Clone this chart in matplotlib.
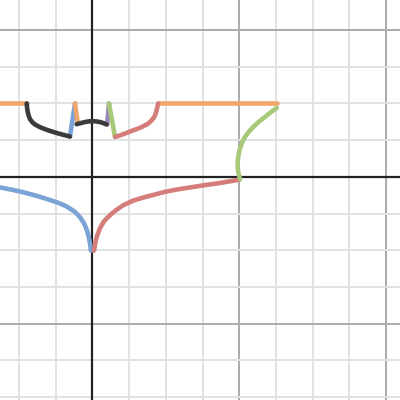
import matplotlib
matplotlib.use("Agg")
import matplotlib.pyplot as plt
import numpy as np

# View window (data units)
x_min, x_max = -1.26, 4.19
y_min, y_max = -3.04, 2.41

# Curves (x, y lists)
blue_low_x = [-1.260, -1.124, -0.988, -0.852, -0.715, -0.579, -0.443, -0.347,
              -0.238, -0.170, -0.116, -0.075, -0.048, -0.030, -0.020]
blue_low_y = [-0.144, -0.170, -0.199, -0.233, -0.272, -0.315, -0.362, -0.406,
              -0.477, -0.549, -0.631, -0.726, -0.834, -0.930, -1.005]

red_low_x = [0.020, 0.038, 0.061, 0.102, 0.157, 0.238, 0.320, 0.420, 0.552,
             0.692, 0.851, 0.988, 1.151, 1.328, 1.505, 1.692, 1.846, 2.0]
red_low_y = [-1.005, -0.903, -0.808, -0.700, -0.605, -0.522, -0.454, -0.386, -0.324,
             -0.281, -0.240, -0.204, -0.172, -0.144, -0.116, -0.090, -0.065, -0.038]

orange_left_x = [-1.26, -0.896]
orange_left_y = [1.0, 1.0]

black_left_x = [-0.896, -0.892, -0.883, -0.869, -0.851, -0.820, -0.783, -0.729,
                -0.670, -0.593, -0.511, -0.416, -0.307]
black_left_y = [1.0, 0.950, 0.886, 0.834, 0.786, 0.745, 0.714, 0.684,
                0.659, 0.631, 0.605, 0.578, 0.550]

blue_up_x = [-0.307, -0.238]
blue_up_y = [0.550, 1.0]

orange_mid_x = [-0.238, -0.200]
orange_mid_y = [1.0, 0.727]

black_mid_x = [-0.215, -0.16, -0.10, -0.05, 0.0, 0.05, 0.10, 0.15, 0.193]
black_mid_y = [0.718, 0.733, 0.748, 0.756, 0.759, 0.756, 0.748, 0.732, 0.714]

purple_x = [0.200, 0.225]
purple_y = [0.714, 1.0]

green_up_x = [0.225, 0.307]
green_up_y = [1.0, 0.545]

red_up_x = [0.307, 0.375, 0.443, 0.525, 0.624, 0.695, 0.760, 0.804, 0.842,
            0.862, 0.875, 0.886, 0.896]
red_up_y = [0.545, 0.565, 0.591, 0.623, 0.659, 0.691, 0.727, 0.768, 0.817,
            0.864, 0.909, 0.963, 1.0]

orange_right_x = [0.896, 2.51]
orange_right_y = [1.0, 1.0]

green_right_x = [2.510, 2.432, 2.350, 2.268, 2.191, 2.132, 2.078, 2.041, 2.010,
                 1.989, 1.978, 1.978, 1.986, 2.000, 2.010]
green_right_y = [0.940, 0.882, 0.817, 0.752, 0.681, 0.616, 0.545, 0.473, 0.387,
                 0.296, 0.204, 0.132, 0.068, 0.010, -0.03]

ORANGE = "#f2a66a"
BLUE = "#7ba3d6"
RED = "#d47d7b"
GREEN = "#a8c97a"
PURPLE = "#9a86b8"
BLACK = "#3b3b3b"

fig = plt.figure(figsize=(4, 4), dpi=100)
ax = fig.add_axes([0, 0, 1, 1])
ax.set_xlim(x_min, x_max)
ax.set_ylim(y_min, y_max)
ax.set_axis_off()

# grid
for gx in np.arange(-1.0, 4.5, 0.5):
    major = abs(gx / 2 - round(gx / 2)) < 1e-9
    ax.axvline(gx, color="#ababab" if major else "#e2e2e2", lw=1.4, zorder=0)
for gy in np.arange(-3.0, 2.5, 0.5):
    major = abs(gy / 2 - round(gy / 2)) < 1e-9
    ax.axhline(gy, color="#ababab" if major else "#e2e2e2", lw=1.4, zorder=0)
ax.axvline(0, color="#222222", lw=1.6, zorder=1)
ax.axhline(0, color="#222222", lw=1.6, zorder=1)

lw = 3.3
kw = dict(lw=lw, solid_capstyle="round", solid_joinstyle="round", zorder=3)
ax.plot(blue_low_x, blue_low_y, color=BLUE, **kw)
ax.plot(red_low_x, red_low_y, color=RED, **kw)
ax.plot(orange_left_x, orange_left_y, color=ORANGE, **kw)
ax.plot(orange_right_x, orange_right_y, color=ORANGE, **kw)
ax.plot(green_right_x, green_right_y, color=GREEN, **kw)
ax.plot(blue_up_x, blue_up_y, color=BLUE, **kw)
ax.plot(orange_mid_x, orange_mid_y, color=ORANGE, **kw)
ax.plot(purple_x, purple_y, color=PURPLE, **kw)
ax.plot(green_up_x, green_up_y, color=GREEN, **kw)
ax.plot(red_up_x, red_up_y, color=RED, **kw)
ax.plot(black_left_x, black_left_y, color=BLACK, **kw)
ax.plot(black_mid_x, black_mid_y, color=BLACK, **kw)

fig.savefig("out.png", dpi=100)
